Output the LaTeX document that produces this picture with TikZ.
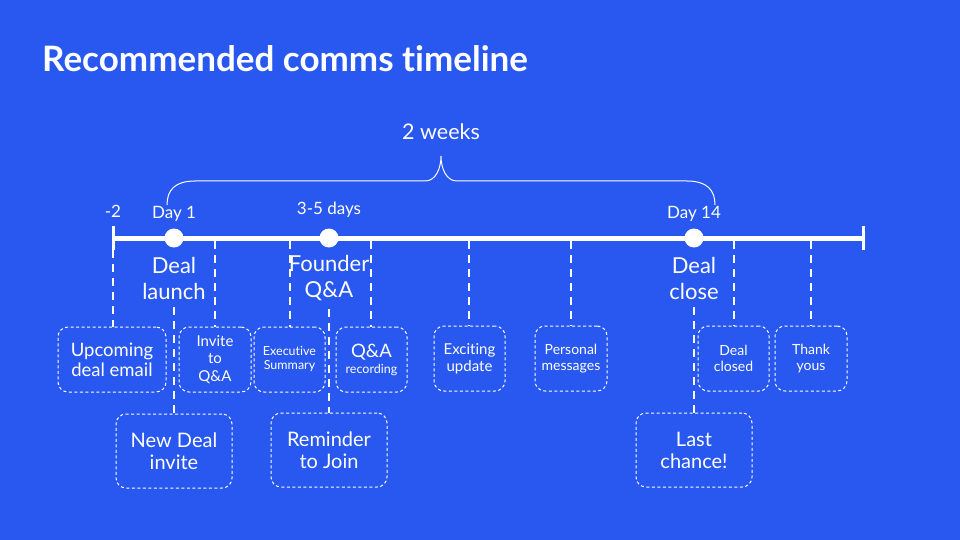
\documentclass[tikz,border=0pt]{standalone}
\usepackage{fontspec}
\setmainfont{Lato}[Ligatures=NoCommon]
\definecolor{bgblue}{RGB}{40,88,240}
\tikzset{
  box/.style={draw=white, line width=1pt, dash pattern=on 3pt off 2.5pt, rounded corners=10pt, text=white, align=center, inner sep=0pt},
  conn/.style={draw=white, line width=2pt, dash pattern=on 8pt off 6pt},
  lbl/.style={text=white, align=center, inner sep=0pt},
  dot/.style={circle, fill=white, minimum size=19pt, inner sep=0pt},
  toplbl/.style={lbl, font=\fontsize{17}{20}\selectfont},
  biglbl/.style={lbl, font=\fontsize{22}{26}\selectfont},
}
\begin{document}
\begin{tikzpicture}[x=1pt,y=-1pt]
\fill[bgblue] (0,0) rectangle (960,540);
\useasboundingbox (0,0) rectangle (960,540);
% title
\node[lbl, anchor=base west, font=\fontsize{35}{40}\selectfont\bfseries] (title) at (42,72) {Recommended comms timeline};
% brace
\node[lbl, font=\fontsize{21.5}{25}\selectfont] (weeks) at (441,132) {2 weeks};
\draw[white, line width=1pt] (167,205) .. controls (167,190) and (175,181) .. (195,181) -- (425,181)
  .. controls (436,181) and (441,168) .. (441,156)
  .. controls (441,168) and (446,181) .. (457,181) -- (687,181)
  .. controls (707,181) and (715,190) .. (715,205);
% timeline
\coordinate (tl) at (113,238);
\coordinate (tr) at (863,238);
\coordinate (tlt) at (113,226);
\coordinate (tlb) at (113,250);
\coordinate (trt) at (863,226);
\coordinate (trb) at (863,250);
\draw[white, line width=5pt] (tl) -- (tr);
\draw[white, line width=3pt] (tlt) -- (tlb);
\draw[white, line width=3pt] (trt) -- (trb);
\node[dot] (d1) at (174,238) {};
\node[dot] (d35) at (329,238) {};
\node[dot] (d14) at (694,238) {};
% top labels
\node[toplbl] (m2) at (113,211) {-2};
\node[toplbl] (day1) at (174,214) {Day 1};
\node[toplbl] (days35) at (329,210) {3-5 days};
\node[toplbl] (day14) at (694,214) {Day 14};
% under labels
\node[biglbl] (launch) at (174,278) {Deal\\launch};
\node[biglbl] (founder) at (329,278) {Founder\\Q\&A};
\node[biglbl] (close) at (694,278) {Deal\\close};
% boxes row 1
\node[box, minimum width=108pt, minimum height=65pt, font=\fontsize{18.5}{20}\selectfont] (upcoming) at (112,359.5) {Upcoming\\deal email};
\node[box, minimum width=72pt, minimum height=65pt, font=\fontsize{15}{17.5}\selectfont] (invite) at (215,359.5) {Invite\\to\\Q\&A};
\node[box, minimum width=71pt, minimum height=65pt, font=\fontsize{12.5}{14}\selectfont] (exec) at (289.5,359.5) {Executive\\Summary};
\node[box, minimum width=71pt, minimum height=65pt] (qarec) at (371.5,359.5) {{\fontsize{18.5}{19}\selectfont Q\&A}\\[4pt]{\fontsize{12.5}{14}\selectfont recording}};
\node[box, minimum width=71pt, minimum height=65pt, font=\fontsize{15}{17}\selectfont] (exciting) at (469.5,358.5) {Exciting\\update};
\node[box, minimum width=72pt, minimum height=65pt, font=\fontsize{14}{16}\selectfont] (personal) at (571,358.5) {Personal\\messages};
\node[box, minimum width=71pt, minimum height=65pt, font=\fontsize{14}{16}\selectfont] (closed) at (733.5,358.5) {Deal\\closed};
\node[box, minimum width=72pt, minimum height=65pt, font=\fontsize{14}{16}\selectfont] (thanks) at (811,358.5) {Thank\\yous};
% boxes row 2
\node[box, minimum width=116pt, minimum height=74pt, font=\fontsize{20}{22}\selectfont] (newdeal) at (174,451) {New Deal\\invite};
\node[box, minimum width=116pt, minimum height=74pt, font=\fontsize{20}{22}\selectfont] (reminder) at (329,450) {Reminder\\to Join};
\node[box, minimum width=116pt, minimum height=74pt, font=\fontsize{20}{22}\selectfont] (last) at (694,450) {Last\\chance!};
% connectors
\coordinate (c215) at (215,241);
\coordinate (c290) at (290,241);
\coordinate (c371) at (371,241);
\coordinate (c469) at (469,241);
\coordinate (c571) at (571,241);
\coordinate (c734) at (734,241);
\coordinate (c811) at (811,241);
\draw[conn] (tlb) -- (tlb |- upcoming.north);
\draw[conn] (c215) -- (c215 |- invite.north);
\draw[conn] (c290) -- (c290 |- exec.north);
\draw[conn] (c371) -- (c371 |- qarec.north);
\draw[conn] (c469) -- (c469 |- exciting.north);
\draw[conn] (c571) -- (c571 |- personal.north);
\draw[conn] (c734) -- (c734 |- closed.north);
\draw[conn] (c811) -- (c811 |- thanks.north);
\draw[conn] ([yshift=-8pt]launch.south) -- (newdeal.north);
\draw[conn] ([yshift=-8pt]founder.south) -- (reminder.north);
\draw[conn] ([yshift=-8pt]close.south) -- (last.north);
\end{tikzpicture}
\end{document}
